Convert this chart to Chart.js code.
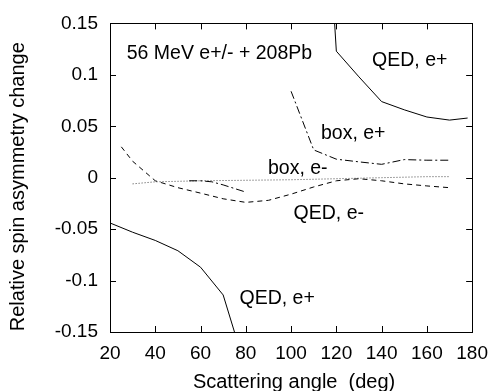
<!DOCTYPE html>
<html>
<head>
<meta charset="utf-8">
<script src="https://cdn.jsdelivr.net/npm/chart.js@4.4.0/dist/chart.umd.min.js"></script>
<style>
  html, body { margin: 0; padding: 0; background: #fff; }
  #wrap { width: 498px; height: 391px; }
</style>
</head>
<body>
<div id="wrap"><canvas id="myChart" width="498" height="391"></canvas></div>
<script>
// curves (angle in deg, relative change)
const qedPosLowX = [20, 30, 40, 50, 60, 70, 80];
const qedPosLowY = [-0.044, -0.053, -0.061, -0.071, -0.087, -0.114, -0.186];

const qedPosHighX = [110, 120, 130, 140, 150, 160, 170, 178];
const qedPosHighY = [0.48, 0.123, 0.098, 0.074, 0.066, 0.059, 0.056, 0.058];

const qedElecX = [25, 30, 40, 50, 60, 70, 80, 90, 100, 110, 120, 130, 140, 150, 160, 170];
const qedElecY = [0.030, 0.016, -0.003, -0.0097, -0.015, -0.0205, -0.024, -0.022, -0.016, -0.009, -0.003, -0.001, -0.003, -0.006, -0.008, -0.0097];

// null = gap between the forward piece and the backward piece
const boxPosX = [55, 60, 65, 70, 80, 90, 100, 110, 120, 130, 140, 150, 160, 170];
const boxPosY = [-0.003, -0.003, -0.004, -0.007, -0.014, null, 0.084, 0.027, 0.018, 0.0154, 0.013, 0.0176, 0.017, 0.017];

const boxElecX = [30, 40, 60, 80, 100, 120, 140, 160, 170];
const boxElecY = [-0.006, -0.004, -0.003, -0.0025, -0.002, -0.001, 0, 0.001, 0.001];

// tick labels
const xTicks = [20, 40, 60, 80, 100, 120, 140, 160, 180];
const yTicks = [-0.15, -0.1, -0.05, 0, 0.05, 0.1, 0.15];

// axis titles
const xTitle = 'Scattering angle  (deg)';
const yTitle = 'Relative spin asymmetry change';

// text written inside the plot
const noteText = ["56 MeV e+/- + 208Pb", "QED, e+", "box, e+", "box, e-", "QED, e-", "QED, e+"];
const noteX = [27.4, 135.8, 113.2, 89.8, 101.1, 77.2];
const noteY = [0.121, 0.114, 0.043, 0.009, -0.035, -0.118];

const FONT = "'Liberation Sans', Arial, Helvetica, sans-serif";

function toPoints(xs, ys) {
    return xs.map(function(x, i) { return { x: x, y: ys[i] }; });
}

function curve(label, xs, ys, dash, color) {
    return {
        label: label,
        data: toPoints(xs, ys),
        borderColor: color,
        borderWidth: 1,
        borderDash: dash,
        pointRadius: 0,
        tension: 0,
        fill: false,
        spanGaps: false
    };
}

// gnuplot style frame with inward ticks on all four sides
const framePlugin = {
    id: 'frame',
    afterDatasetsDraw: function(chart) {
        const ctx = chart.ctx;
        const a = chart.chartArea;
        const xs = chart.scales.x;
        const ys = chart.scales.y;
        const len = 6;
        ctx.save();
        ctx.strokeStyle = '#000';
        ctx.lineWidth = 1;
        ctx.beginPath();
        xTicks.forEach(function(v) {
            const px = Math.round(xs.getPixelForValue(v)) + 0.5;
            ctx.moveTo(px, a.bottom); ctx.lineTo(px, a.bottom - len);
            ctx.moveTo(px, a.top); ctx.lineTo(px, a.top + len);
        });
        yTicks.forEach(function(v) {
            const py = Math.round(ys.getPixelForValue(v)) + 0.5;
            ctx.moveTo(a.left, py); ctx.lineTo(a.left + len, py);
            ctx.moveTo(a.right, py); ctx.lineTo(a.right - len, py);
        });
        ctx.stroke();
        ctx.strokeRect(Math.round(a.left) + 0.5, Math.round(a.top) + 0.5,
            Math.round(a.right - a.left), Math.round(a.bottom - a.top));
        ctx.restore();
    }
};

// curve names, beam/target note and the axis titles
const notesPlugin = {
    id: 'notes',
    afterDatasetsDraw: function(chart) {
        const ctx = chart.ctx;
        const a = chart.chartArea;
        ctx.save();
        ctx.fillStyle = '#000';
        ctx.font = '19.5px ' + FONT;
        ctx.textAlign = 'left';
        ctx.textBaseline = 'middle';
        noteText.forEach(function(t, i) {
            ctx.fillText(t, chart.scales.x.getPixelForValue(noteX[i]), chart.scales.y.getPixelForValue(noteY[i]));
        });

        ctx.font = '20px ' + FONT;
        ctx.textAlign = 'center';
        ctx.fillText(xTitle, (a.left + a.right) / 2 + 3, 382);

        ctx.translate(18, (a.top + a.bottom) / 2 + 9);
        ctx.rotate(-Math.PI / 2);
        ctx.fillText(yTitle, 0, 0);
        ctx.restore();
    }
};

function displayGraph() {
    const grapharea = document.getElementById('myChart');
    const data = {
        datasets: [
            curve('QED, e+', qedPosLowX, qedPosLowY, [], '#000'),
            curve('QED, e+ (back)', qedPosHighX, qedPosHighY, [], '#000'),
            curve('QED, e-', qedElecX, qedElecY, [5, 4], '#000'),
            curve('box, e+', boxPosX, boxPosY, [8, 3, 2, 3], '#000'),
            curve('box, e-', boxElecX, boxElecY, [1, 2], '#444')
        ]
    };
    const config = {
        type: 'line',
        data: data,
        options: {
            responsive: false,
            animation: false,
            layout: { padding: { left: 0, right: 19, top: 14, bottom: 0 } },
            plugins: {
                legend: { display: false },
                tooltip: { enabled: false }
            },
            scales: {
                x: {
                    type: 'linear',
                    min: 20,
                    max: 180,
                    grid: { display: false, drawTicks: false },
                    border: { display: false },
                    afterBuildTicks: function(scale) {
                        scale.ticks = xTicks.map(function(v) { return { value: v }; });
                    },
                    afterFit: function(scale) { scale.height = 59; },
                    ticks: {
                        color: '#000',
                        padding: 10,
                        maxRotation: 0,
                        font: { family: FONT, size: 19 },
                        callback: function(v) { return String(v); }
                    }
                },
                y: {
                    type: 'linear',
                    min: -0.15,
                    max: 0.15,
                    grid: { display: false, drawTicks: false },
                    border: { display: false },
                    afterBuildTicks: function(scale) {
                        scale.ticks = yTicks.map(function(v) { return { value: v }; });
                    },
                    afterFit: function(scale) { scale.width = 110; },
                    ticks: {
                        color: '#000',
                        padding: 12,
                        font: { family: FONT, size: 19 },
                        callback: function(v) { return String(v); }
                    }
                }
            }
        },
        plugins: [framePlugin, notesPlugin]
    };
    const myChart = new Chart(grapharea, config);
}

displayGraph();
</script>
</body>
</html>
